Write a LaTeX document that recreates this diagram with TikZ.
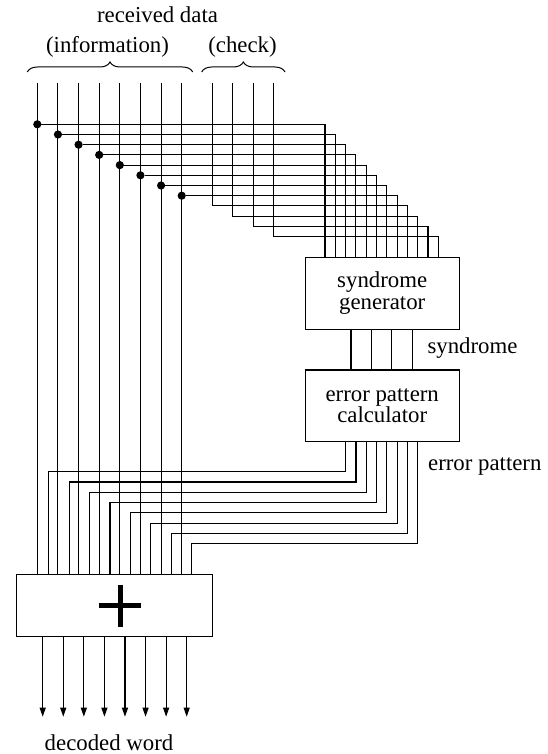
\documentclass[tikz,border=0pt]{standalone}
\usepackage{fontspec}
\setmainfont{Liberation Serif}
\usetikzlibrary{arrows.meta}
\usetikzlibrary{decorations.pathreplacing}
\usetikzlibrary{calc}

\begin{document}
\begin{tikzpicture}
  [x=1pt,y=-1pt,line width=1.1pt,
  dot/.style={circle,draw=black,fill=black,inner sep=0pt,minimum size=7pt},
  box/.style={rectangle,draw=black,line width=1.1pt,inner sep=0pt,align=center,font=\fontsize{22.8}{21.6}\selectfont},
  lbl/.style={font=\fontsize{22.8}{21.6}\selectfont,inner sep=0pt},
  brc/.style={decorate,decoration={brace,amplitude=10pt},line width=1pt}]
  \useasboundingbox (0,0) rectangle (548,754);

  % labels on top
  \node[lbl] (rd) at (157.5,15) {received data};
  \node[lbl] (inf) at (107.5,46.7) {(information)};
  \node[lbl] (chk) at (242.5,46.7) {(check)};
  \draw[brc] (27.3,72) -- (192.7,72);
  \draw[brc] (201.7,72) -- (285,72);

  % boxes
  \node[box,minimum width=154.3pt,minimum height=72pt] (syn) at (382.2,293.3) {syndrome\\generator};
  \node[box,minimum width=154.3pt,minimum height=71.7pt] (epc) at (382.2,405.8) {error pattern\\calculator};
  \node[box,minimum width=195.6pt,minimum height=62.4pt] (add) at (114.5,605.5) {};

  % information bits
  \foreach \i in {0,...,7} {
    \coordinate (in\i) at ({37.3+20.63*\i},82.7);
    \node[dot] (d\i) at ({37.3+20.63*\i},{124.3+10.2*\i}) {};
    \coordinate (t\i) at ({325+10.3*\i},{124.3+10.2*\i});
    \draw (in\i) -- (in\i |- add.north);
    \draw (d\i) -- (t\i) -- (t\i |- syn.north);
  }

  % check bits
  \foreach \k in {0,...,3} {
    \coordinate (ck\k) at ({212.3+20.5*\k},82.7);
    \coordinate (cb\k) at ({212.3+20.5*\k},{205.9+10.2*\k});
    \coordinate (ct\k) at ({407.4+10.3*\k},{205.9+10.2*\k});
    \draw (ck\k) -- (cb\k) -- (ct\k) -- (ct\k |- syn.north);
  }

  % syndrome
  \foreach \k in {0,...,3} {
    \coordinate (s\k) at ({351+20.4*\k},0);
    \draw (s\k |- syn.south) -- (s\k |- epc.north);
  }
  \node[lbl] (sl) at (472.5,348) {syndrome};

  % error pattern
  \foreach \j in {0,...,7} {
    \coordinate (e\j) at ({345.7+10.3*\j},{471.7+10.3*\j});
    \coordinate (f\j) at ({48.7+20.43*\j},{471.7+10.3*\j});
    \draw (e\j |- epc.south) -- (e\j) -- (f\j) -- (f\j |- add.north);
  }
  \node[lbl] (el) at (484.8,467) {error pattern};

  % adder
  \coordinate (pl) at (120,605.7);
  \draw[line width=5pt] ($(pl)+(-21,0)$) -- ($(pl)+(21,0)$) ($(pl)+(0,-21)$) -- ($(pl)+(0,21)$);

  % decoded word
  \foreach \k in {0,...,7} {
    \coordinate (o\k) at ({42.7+20.57*\k},716.7);
    \draw[-{Triangle[length=9pt,width=6pt]}] (o\k |- add.south) -- (o\k);
  }
  \node[lbl] (dw) at (109,742.7) {decoded word};
\end{tikzpicture}
\end{document}
